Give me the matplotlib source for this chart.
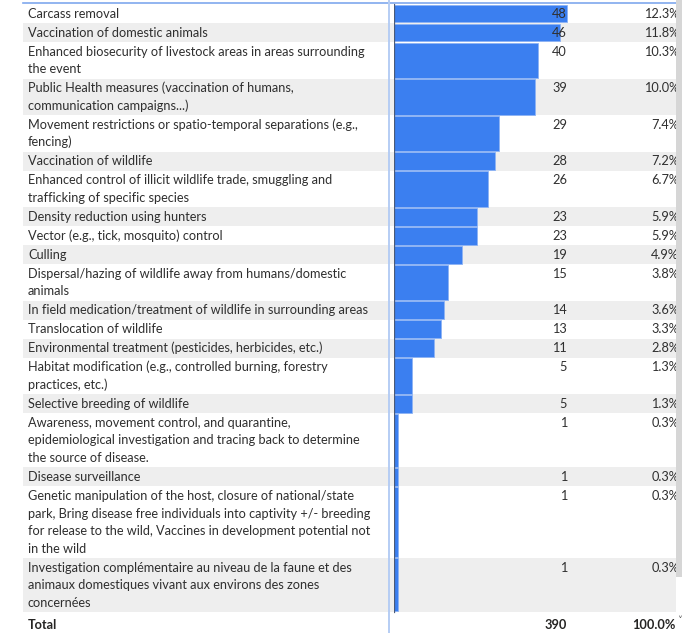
import matplotlib
matplotlib.use("Agg")
import matplotlib.pyplot as plt
from matplotlib.patches import Rectangle

# ---- data -------------------------------------------------------------
measures = [
    "Carcass removal",
    "Vaccination of domestic animals",
    "Enhanced biosecurity of livestock areas in areas surrounding\nthe event",
    "Public Health measures (vaccination of humans,\ncommunication campaigns...)",
    "Movement restrictions or spatio-temporal separations (e.g.,\nfencing)",
    "Vaccination of wildlife",
    "Enhanced control of illicit wildlife trade, smuggling and\ntrafficking of specific species",
    "Density reduction using hunters",
    "Vector (e.g., tick, mosquito) control",
    "Culling",
    "Dispersal/hazing of wildlife away from humans/domestic\nanimals",
    "In field medication/treatment of wildlife in surrounding areas",
    "Translocation of wildlife",
    "Environmental treatment (pesticides, herbicides, etc.)",
    "Habitat modification (e.g., controlled burning, forestry\npractices, etc.)",
    "Selective breeding of wildlife",
    "Awareness, movement control, and quarantine,\nepidemiological investigation and tracing back to determine\nthe source of disease.",
    "Disease surveillance",
    "Genetic manipulation of the host, closure of national/state\npark, Bring disease free individuals into captivity +/- breeding\nfor release to the wild, Vaccines in development potential not\nin the wild",
    "Investigation complémentaire au niveau de la faune et des\nanimaux domestiques vivant aux environs des zones\nconcernées",
]
counts = [48, 46, 40, 39, 29, 28, 26, 23, 23, 19, 15, 14, 13, 11, 5, 5, 1, 1, 1, 1]
total_count = 390
total_label = "Total"

# ---- styling ----------------------------------------------------------
W, H = 682, 633
FONT = ["Lato", "DejaVu Sans"]
FS = 9.2
TEXT_C = "#2f2f2f"
BAND_C = "#eeeeee"
BAR_C = "#3b7ff0"
BAR_EDGE = "#8db3f4"
LINE_C = "#7fa8ee"

table_left, table_right = 23, 676
text_x = 28
top0 = 4.0
pad_row, line_h = 1.46, 17.54
baseline_off = 13.7
bar_origin, bar_px_max = 394, 173
count_right, pct_right = 567, 679

fig = plt.figure(figsize=(W / 100, H / 100), dpi=100)


def pixel_axes(rect, z):
    a = fig.add_axes(rect)
    a.set_ylim(H, 0)
    a.axis("off")
    a.patch.set_alpha(0)
    a.set_zorder(z)
    return a


bg = pixel_axes([0, 0, 1, 1], 0)
bg.set_xlim(0, W)
fg = pixel_axes([0, 0, 1, 1], 2)
fg.set_xlim(0, W)

# row geometry from the number of wrapped lines in each label
tops, heights = [], []
y = top0
for lab in measures:
    n = lab.count("\n") + 1
    h = pad_row + n * line_h
    tops.append(y)
    heights.append(h)
    y += h
table_bottom = y

# alternating row bands
for i, (t, h) in enumerate(zip(tops, heights)):
    if i % 2 == 1:
        bg.add_patch(Rectangle((table_left, t), table_right - table_left, h,
                               facecolor=BAND_C, edgecolor="none"))

# data bars on their own value axis
bax = pixel_axes([bar_origin / W, 0, (table_right - bar_origin) / W, 1], 1)
bax.set_xlim(0, max(counts) * (table_right - bar_origin) / bar_px_max)
centers = [t + h / 2 for t, h in zip(tops, heights)]
bax.barh(centers, counts, height=[h - 1.1 for h in heights], left=0,
         color=BAR_C, edgecolor=BAR_EDGE, linewidth=0.6, zorder=2)
bax.axvline(0, ymin=1 - table_bottom / H, ymax=1 - top0 / H,
            color="#4a5a78", linewidth=0.9, zorder=3)

# text columns
for lab, c, t in zip(measures, counts, tops):
    for k, line in enumerate(lab.split("\n")):
        fg.text(text_x, t + baseline_off + k * line_h, line, ha="left",
                va="baseline", fontsize=FS, family=FONT, color=TEXT_C)
    fg.text(count_right, t + baseline_off, f"{c}", ha="right", va="baseline",
            fontsize=FS, family=FONT, color=TEXT_C)
    fg.text(pct_right, t + baseline_off, f"{c / total_count * 100:.1f}%",
            ha="right", va="baseline", fontsize=FS, family=FONT, color=TEXT_C)

# total row
tot_base = 629
bold = dict(va="baseline", fontsize=FS, family=FONT, color="#252423",
            fontweight="bold")
fg.text(text_x, tot_base, total_label, ha="left", **bold)
fg.text(count_right, tot_base, f"{total_count}", ha="right", **bold)
fg.text(pct_right - 3, tot_base, "100.0%", ha="right", **bold)
fg.text(679.5, 621, "˅", ha="center", va="center", fontsize=7,
        family=["DejaVu Sans"], color="#555555")

# frame lines
fg.plot([table_left, table_right], [3, 3], color=LINE_C, linewidth=1.2)
fg.plot([388.5, 388.5], [0, H], color="#b5cdf4", linewidth=1.4)

# vertical scrollbar
fg.add_patch(Rectangle((676, 0), W - 676, 577, facecolor="#d6d6d6",
                       edgecolor="none", zorder=6))

fig.savefig("out.png", dpi=100, facecolor="white")
